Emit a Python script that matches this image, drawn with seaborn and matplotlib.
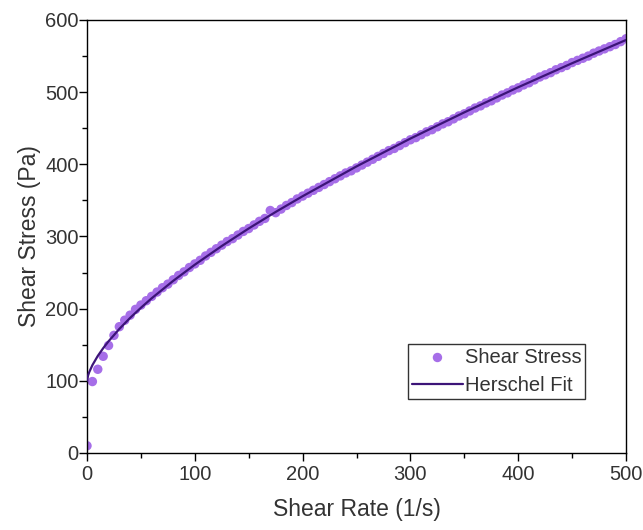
import matplotlib
matplotlib.use("Agg")
import matplotlib.pyplot as plt
import seaborn as sns
import pandas as pd
from matplotlib.ticker import MultipleLocator

SHEAR_RATE = [
    0, 5, 10, 15, 20, 25, 30, 35, 40, 45, 50, 55, 60, 65, 70, 75, 80, 85, 90, 95,
    100, 105, 110, 115, 120, 125, 130, 135, 140, 145, 150, 155, 160, 165, 170, 175,
    180, 185, 190, 195, 200, 205, 210, 215, 220, 225, 230, 235, 240, 245, 250, 255,
    260, 265, 270, 275, 280, 285, 290, 295, 300, 305, 310, 315, 320, 325, 330, 335,
    340, 345, 350, 355, 360, 365, 370, 375, 380, 385, 390, 395, 400, 405, 410, 415,
    420, 425, 430, 435, 440, 445, 450, 455, 460, 465, 470, 475, 480, 485, 490, 495,
    500,
]
SHEAR_STRESS = [
    10, 99, 116, 134, 149, 163, 175, 184, 191, 199, 205, 211, 217, 223, 229, 234,
    240, 246, 251, 257, 262, 267, 273, 278, 283, 288, 293, 297, 302, 307, 311, 316,
    321, 325, 336, 333, 338, 343, 347, 352, 356, 360, 364, 368, 372, 376, 380, 384,
    388, 391, 395, 399, 403, 407, 411, 415, 419, 422, 426, 430, 434, 437, 441, 445,
    448, 452, 456, 459, 463, 467, 470, 474, 478, 481, 485, 488, 492, 496, 499, 503,
    506, 510, 513, 517, 521, 524, 527, 531, 534, 537, 541, 544, 547, 550, 554, 557,
    560, 563, 566, 570, 574,
]

# Herschel-Bulkley fit curve
FIT_RATE = [0, 1, 2, 5, 10, 15, 20, 30, 40, 50, 60, 80, 100, 125, 150, 175,
            200, 250, 300, 350, 400, 450, 500]
FIT_STRESS = [100, 107.4, 111.8, 121.7, 134.5, 145.2, 154.8, 171.9, 187.2, 201.2,
              214.4, 238.6, 260.9, 286.8, 311.1, 334.0, 355.8, 397.1, 435.7, 472.0,
              506.8, 540.1, 572.3]

POINT_COLOR = "#a66ee8"
LINE_COLOR = "#3c1478"
TEXT_COLOR = "#333333"

sns.set_style("ticks")
plt.rcParams["font.family"] = ["Liberation Sans", "DejaVu Sans"]

data = pd.DataFrame({"rate": SHEAR_RATE, "stress": SHEAR_STRESS})
fit = pd.DataFrame({"rate": FIT_RATE, "stress": FIT_STRESS})

fig = plt.figure(figsize=(6.43, 5.30), dpi=100)
ax = fig.add_axes([0.1353, 0.1453, 0.8383, 0.8170])

sns.scatterplot(data=data, x="rate", y="stress", ax=ax, color=POINT_COLOR,
                s=46, edgecolor="none", label="Shear Stress", zorder=2)
sns.lineplot(data=fit, x="rate", y="stress", ax=ax, color=LINE_COLOR,
             linewidth=1.6, label="Herschel Fit", zorder=3)

ax.set_xlim(0, 500)
ax.set_ylim(0, 600)
ax.xaxis.set_major_locator(MultipleLocator(100))
ax.xaxis.set_minor_locator(MultipleLocator(50))
ax.yaxis.set_major_locator(MultipleLocator(100))
ax.yaxis.set_minor_locator(MultipleLocator(50))
ax.tick_params(which="major", length=6, width=1, direction="out", pad=3,
               labelsize=14.5, labelcolor=TEXT_COLOR, color="black")
ax.tick_params(axis="y", which="major", pad=0)
ax.tick_params(which="minor", length=3.5, width=1, direction="out", color="black")

for side in ["top", "right", "left", "bottom"]:
    ax.spines[side].set_visible(True)
    ax.spines[side].set_color("black")
    ax.spines[side].set_linewidth(1)

ax.set_xlabel("Shear Rate (1/s)", fontsize=16.5, color=TEXT_COLOR, labelpad=10)
ax.set_ylabel("Shear Stress (Pa)", fontsize=16.5, color=TEXT_COLOR, labelpad=3)

leg = ax.legend(loc="lower left", bbox_to_anchor=(0.596, 0.125), fontsize=14.5,
                frameon=True, fancybox=False, edgecolor="black",
                handlelength=2.5, handletextpad=0.1, borderpad=0.2,
                labelspacing=0.45, borderaxespad=0)
leg.get_frame().set_linewidth(1)
for text in leg.get_texts():
    text.set_color(TEXT_COLOR)

fig.savefig("out.png", dpi=100)
